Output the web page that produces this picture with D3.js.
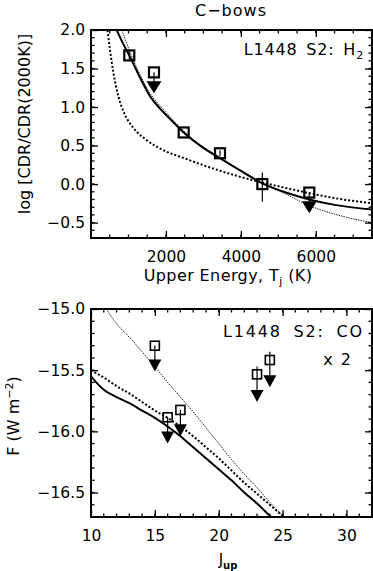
<!DOCTYPE html>
<html>
<head>
<meta charset="utf-8">
<script src="https://cdn.jsdelivr.net/npm/d3@7"></script>
<style>
  body { margin: 0; background: #fff; }
  svg { display: block; font-family: "DejaVu Sans", sans-serif; }
</style>
</head>
<body>
<div id="chart"></div>
<script>
// ---- top panel: H2 column density ratio vs upper energy ----
const h2XTicks = [2000, 4000, 6000];
const h2YTicks = [-0.5, 0.0, 0.5, 1.0, 1.5, 2.0];

// detections [T (K), log ratio, err low, err high]
const h2Points = [
    [1022, 1.67, 1.62, 1.72],
    [2474, 0.67, 0.67, 0.67],
    [3443, 0.40, 0.36, 0.44],
    [4573, 0.00, -0.23, 0.15],
];
// upper limits [T, value, arrow tip]
const h2Limits = [
    [1681, 1.45, 1.18],
    [5826, -0.11, -0.38],
];

const h2Solid = [
    [686, 2.0], [850, 1.83], [1022, 1.67], [1300, 1.39], [1575, 1.14], [1823, 0.99],
    [2100, 0.85], [2474, 0.67], [3000, 0.47], [3443, 0.335], [4000, 0.17],
    [4573, 0.01], [5200, -0.11], [5826, -0.20], [6500, -0.27], [7500, -0.33],
];
const h2Dotted = [
    [440, 2.0], [507, 1.74], [596, 1.45], [730, 1.14], [907, 0.90], [1130, 0.73],
    [1486, 0.57], [1931, 0.44], [2465, 0.34], [3087, 0.23], [3800, 0.12],
    [4573, 0.02], [5200, -0.05], [5845, -0.12], [6600, -0.19], [7500, -0.25],
];
const h2Thin = [
    [819, 2.0], [1022, 1.74], [1300, 1.43], [1500, 1.24], [2000, 0.93], [2474, 0.69],
    [3000, 0.48], [3443, 0.35], [4000, 0.18], [4573, 0.02], [5000, -0.08],
    [5826, -0.28], [6500, -0.39], [7500, -0.50],
];

// ---- bottom panel: CO line fluxes vs J_up ----
const coXTicks = [10, 15, 20, 25, 30];
const coYTicks = [-16.5, -16.0, -15.5, -15.0];

// upper limits [J, log F, line top, arrow tip]
const coLimits = [
    [15, -15.30, -15.30, -15.51],
    [16, -15.885, -15.885, -16.10],
    [17, -15.825, -15.825, -16.04],
    [23, -15.534, -15.47, -15.76],
    [24, -15.417, -15.35, -15.64],
];

const coSolid = [
    [10, -15.55], [10.5, -15.61], [11, -15.66], [12, -15.72], [13, -15.77], [14, -15.83],
    [15, -15.89], [16, -15.96], [17, -16.04], [18, -16.13], [19, -16.22], [20, -16.31],
    [21, -16.40], [22, -16.50], [23, -16.59], [24, -16.69], [24.1, -16.70],
];
const coDotted = [
    [10, -15.50], [11, -15.56], [12, -15.63], [13, -15.69], [14, -15.76], [15, -15.83],
    [16, -15.89], [17, -15.96], [18, -16.04], [19, -16.13], [20, -16.22], [21, -16.32],
    [22, -16.42], [23, -16.51], [24, -16.60], [25.1, -16.70],
];
const coThin = [
    [11.2, -15.0], [12, -15.12], [13, -15.23], [14, -15.35], [15, -15.47], [16, -15.60],
    [17, -15.72], [18, -15.84], [19, -15.97], [20, -16.10], [21, -16.23], [22, -16.35],
    [23, -16.46], [24, -16.58], [25.1, -16.70],
];

const width = 373;
const height = 571;
const fmt = d => d3.format('.1f')(d).replace('-', '\u2212');

const svg = d3.select('#chart').append('svg')
    .attr('width', width)
    .attr('height', height);

function frame(g, x, y, xTicks, yTicks, xMinor, yMinor) {
    const [x0, x1] = x.range();
    const [y0, y1] = y.range();

    const minorX = d3.range(x.domain()[0], x.domain()[1] + 1e-9, xMinor);
    const minorY = d3.range(Math.ceil(y.domain()[0] / yMinor) * yMinor, y.domain()[1] + 1e-9, yMinor);

    const tickG = g.append('g').attr('stroke', '#000').attr('stroke-width', 1.3);
    // minor ticks on all four sides
    minorX.forEach(v => {
        tickG.append('line').attr('x1', x(v)).attr('x2', x(v)).attr('y1', y0).attr('y2', y0 - 3.5);
        tickG.append('line').attr('x1', x(v)).attr('x2', x(v)).attr('y1', y1).attr('y2', y1 + 3.5);
    });
    minorY.forEach(v => {
        tickG.append('line').attr('y1', y(v)).attr('y2', y(v)).attr('x1', x0).attr('x2', x0 + 3.5);
        tickG.append('line').attr('y1', y(v)).attr('y2', y(v)).attr('x1', x1).attr('x2', x1 - 3.5);
    });

    // major ticks + labels through d3 axes
    g.append('g').attr('transform', `translate(0,${y0})`)
        .call(d3.axisBottom(x).tickValues(xTicks).tickSize(-7).tickPadding(13).tickFormat(d => d))
        .call(a => a.select('.domain').remove());
    g.append('g').attr('transform', `translate(0,${y1})`)
        .call(d3.axisTop(x).tickValues(xTicks).tickSize(-7).tickFormat(''))
        .call(a => a.select('.domain').remove());
    g.append('g').attr('transform', `translate(${x0},0)`)
        .call(d3.axisLeft(y).tickValues(yTicks).tickSize(-7).tickPadding(6).tickFormat(fmt))
        .call(a => a.select('.domain').remove());
    g.append('g').attr('transform', `translate(${x1},0)`)
        .call(d3.axisRight(y).tickValues(yTicks).tickSize(-7).tickFormat(''))
        .call(a => a.select('.domain').remove());

    g.selectAll('.tick line').attr('stroke', '#000').attr('stroke-width', 1.3);
    g.selectAll('.tick text').attr('fill', '#000')
        .style('font-family', '"DejaVu Sans", sans-serif').style('font-size', '15.5px');

    g.append('rect')
        .attr('x', x0).attr('y', y1)
        .attr('width', x1 - x0).attr('height', y0 - y1)
        .attr('fill', 'none').attr('stroke', '#000').attr('stroke-width', 2);
}

function curves(g, x, y, clipId, solid, dotted, thin) {
    const [x0, x1] = x.range();
    const [y0, y1] = y.range();
    g.append('clipPath').attr('id', clipId)
        .append('rect').attr('x', x0).attr('y', y1).attr('width', x1 - x0).attr('height', y0 - y1);

    const line = d3.line().x(d => x(d[0])).y(d => y(d[1])).curve(d3.curveMonotoneX);
    const cg = g.append('g').attr('clip-path', `url(#${clipId})`).attr('fill', 'none');

    cg.append('path').datum(thin).attr('d', line)
        .attr('stroke', '#222').attr('stroke-width', 1).attr('stroke-dasharray', '1.5,1');
    cg.append('path').datum(dotted).attr('d', line)
        .attr('stroke', '#000').attr('stroke-width', 2).attr('stroke-dasharray', '2,2');
    cg.append('path').datum(solid).attr('d', line)
        .attr('stroke', '#000').attr('stroke-width', 2);
}

function limitMarks(g, x, y, limits, size, tri, sw) {
    limits.forEach(([xv, v, lineTop, tip]) => {
        const cx = x(xv);
        g.append('line')
            .attr('x1', cx).attr('x2', cx)
            .attr('y1', y(lineTop)).attr('y2', y(tip) - 4)
            .attr('stroke', '#000').attr('stroke-width', 1.2);
        g.append('path')
            .attr('d', `M${cx - tri.w / 2},${y(tip) - tri.h}L${cx + tri.w / 2},${y(tip) - tri.h}L${cx},${y(tip)}Z`)
            .attr('fill', '#000');
        g.append('rect')
            .attr('x', cx - size / 2).attr('y', y(v) - size / 2)
            .attr('width', size).attr('height', size)
            .attr('fill', 'none').attr('stroke', '#000').attr('stroke-width', sw);
    });
}

// ===== top panel =====
const xH2 = d3.scaleLinear().domain([0, 7500]).range([91, 372]);
const yH2 = d3.scaleLinear().domain([-0.7, 2.0]).range([238, 30]);
const topPanel = svg.append('g');

curves(topPanel, xH2, yH2, 'clipH2', h2Solid, h2Dotted, h2Thin);

// error bars then squares
h2Points.forEach(([t, v, lo, hi]) => {
    topPanel.append('line')
        .attr('x1', xH2(t)).attr('x2', xH2(t))
        .attr('y1', yH2(hi)).attr('y2', yH2(lo))
        .attr('stroke', '#000').attr('stroke-width', 1.2);
    topPanel.append('rect')
        .attr('x', xH2(t) - 5).attr('y', yH2(v) - 5)
        .attr('width', 10).attr('height', 10)
        .attr('fill', 'none').attr('stroke', '#000').attr('stroke-width', 2.2);
});
limitMarks(topPanel, xH2, yH2, h2Limits.map(([t, v, tip]) => [t, v, v, tip]), 10, { w: 15, h: 12 }, 2.2);

frame(topPanel, xH2, yH2, h2XTicks, h2YTicks, 500, 0.1);

svg.append('text').attr('x', 231).attr('y', 16).attr('text-anchor', 'middle')
    .style('font-size', '16px').style('letter-spacing', '1px').text('C\u2212bows');

const h2Label = svg.append('text').attr('x', 364).attr('y', 55).attr('text-anchor', 'end')
    .style('font-size', '16px').style('letter-spacing', '0.8px').style('word-spacing', '3px');
h2Label.append('tspan').text('L1448 S2: H');
h2Label.append('tspan').attr('dy', 4).style('font-size', '11px').text('2');

const xTitle = svg.append('text').attr('x', 228).attr('y', 281).attr('text-anchor', 'middle')
    .style('font-size', '16px').style('letter-spacing', '0.4px');
xTitle.append('tspan').text('Upper Energy, T');
xTitle.append('tspan').attr('dy', 4).style('font-size', '11px').text('j');
xTitle.append('tspan').attr('dy', -4).text(' (K)');

svg.append('text').attr('transform', 'translate(30,124) rotate(-90)').attr('text-anchor', 'middle')
    .style('font-size', '16px').text('log [CDR/CDR(2000K)]');

// ===== bottom panel =====
const xCO = d3.scaleLinear().domain([10, 32]).range([91, 372]);
const yCO = d3.scaleLinear().domain([-16.7, -15.0]).range([517, 309]);
const bottomPanel = svg.append('g');

curves(bottomPanel, xCO, yCO, 'clipCO', coSolid, coDotted, coThin);
limitMarks(bottomPanel, xCO, yCO, coLimits, 9, { w: 13, h: 12 }, 1.6);

frame(bottomPanel, xCO, yCO, coXTicks, coYTicks, 1, 0.1);

svg.append('text').attr('x', 364).attr('y', 337).attr('text-anchor', 'end')
    .style('font-size', '16px').style('letter-spacing', '1.8px').style('word-spacing', '5px')
    .text('L1448 S2: CO');
svg.append('text').attr('x', 351).attr('y', 365).attr('text-anchor', 'end')
    .style('font-size', '16px').style('word-spacing', '3px').text('x 2');

const jTitle = svg.append('text').attr('x', 228).attr('y', 565).attr('text-anchor', 'middle')
    .style('font-size', '15px');
jTitle.append('tspan').text('J');
jTitle.append('tspan').attr('dy', 4).style('font-size', '10px').style('font-weight', 'bold').text('up');

const fTitle = svg.append('text').attr('transform', 'translate(19,416) rotate(-90)').attr('text-anchor', 'middle')
    .style('font-size', '16px');
fTitle.append('tspan').text('F (W m');
fTitle.append('tspan').attr('dy', -6).style('font-size', '11px').text('\u22122');
fTitle.append('tspan').attr('dy', 6).text(')');
</script>
</body>
</html>
